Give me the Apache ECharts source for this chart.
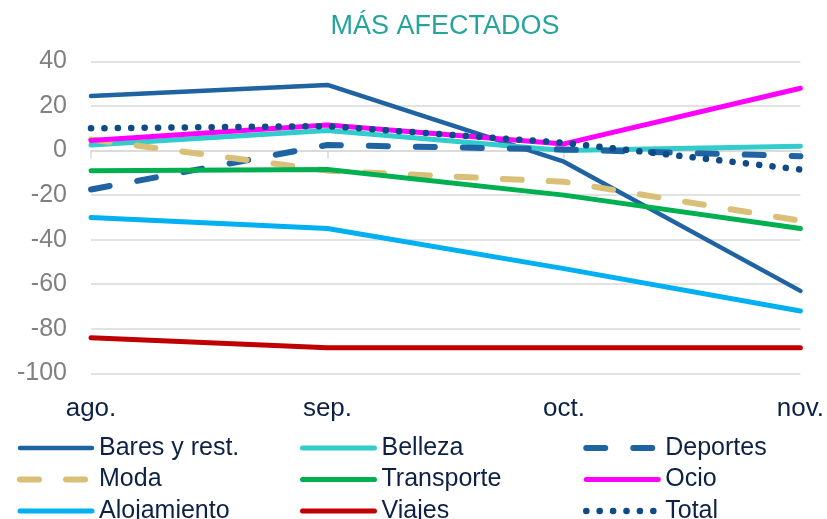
<!DOCTYPE html>
<html>
<head>
<meta charset="utf-8">
<script src="https://cdn.jsdelivr.net/npm/echarts@6/dist/echarts.min.js"></script>
<style>
  html, body { margin: 0; padding: 0; background: #fff; }
  #chart { width: 827px; height: 519px; }
</style>
</head>
<body>
<div id="chart"></div>
<script>
// --- data ---
const months = ['ago.', 'sep.', 'oct.', 'nov.'];
const yTicks = [-100, -80, -60, -40, -20, 0, 20, 40];

const bares = [24.5, 29.5, -5, -63];
const belleza = [2.5, 9, 0, 2];
const deportes = [-17.5, 2.5, 0.5, -2.5];
const moda = [5, -9, -14, -31.5];
const transporte = [-9, -8.5, -20, -35];
const ocio = [4.5, 11.5, 3, 28];
const alojamiento = [-30, -35, -53, -72];
const viajes = [-84, -88.5, -88.5, -88.5];
const total = [10, 11, 3.5, -8.5];

// colours
const COLORS = {
  bares: '#1F63A3',
  belleza: '#33CCCC',
  deportes: '#1F63A3',
  moda: '#D9BF77',
  transporte: '#00B050',
  ocio: '#FF00FF',
  alojamiento: '#00B0F0',
  viajes: '#C00000',
  total: '#0E4A86',
  title: '#26A49C',
  grid: '#D9D9D9',
  yText: '#808080',
  text: '#0D2145'
};

const FONT = 'Liberation Sans, Arial, sans-serif';

const line = (name, data, color, extra = {}) => ({
  name,
  type: 'line',
  data,
  symbol: 'none',
  xAxisIndex: 0,
  lineStyle: Object.assign({ width: 5, color, cap: 'round' }, extra),
  itemStyle: { color }
});

// one vertical legend per column
const legendCol = (left, names) => ({
  orient: 'vertical',
  left,
  top: 435,
  height: 120,
  padding: 0,
  itemWidth: 72,
  itemHeight: 14,
  itemGap: 5.5,
  data: names,
  itemStyle: { opacity: 0 },
  lineStyle: { width: 'inherit', type: 'inherit', cap: 'inherit' },
  textStyle: { fontFamily: FONT, fontSize: 25, color: COLORS.text, lineHeight: 26, padding: [0, 0, 0, 2] }
});

const chart = echarts.init(document.getElementById('chart'));

chart.setOption({
  animation: false,
  backgroundColor: '#fff',
  title: {
    text: 'MÁS AFECTADOS',
    left: 440,
    textAlign: 'center',
    top: 8,
    textStyle: { fontFamily: FONT, fontSize: 27, fontWeight: 'normal', color: COLORS.title }
  },
  grid: { left: 91, right: 21, top: 61.5, height: 311.8, containLabel: false },
  legend: [
    legendCol(17, ['Bares y rest.', 'Moda', 'Alojamiento']),
    legendCol(300, ['Belleza', 'Transporte', 'Viajes']),
    legendCol(583, ['Deportes', 'Ocio', 'Total'])
  ],
  xAxis: [
    {
      // axis line at zero with the ticks
      type: 'category',
      data: months,
      boundaryGap: false,
      axisLine: { onZero: true, lineStyle: { color: COLORS.grid, width: 1.5 } },
      axisTick: { show: true, length: 8, lineStyle: { color: COLORS.grid, width: 1.5 } },
      axisLabel: { show: false }
    },
    {
      // labels sit at the bottom
      type: 'category',
      data: months,
      boundaryGap: false,
      position: 'bottom',
      axisLine: { show: false, onZero: false },
      axisTick: { show: false },
      axisLabel: { margin: 23, fontFamily: FONT, fontSize: 26, color: COLORS.text }
    }
  ],
  yAxis: {
    type: 'value',
    min: yTicks[0],
    max: yTicks[yTicks.length - 1],
    interval: 20,
    axisLine: { show: false },
    axisTick: { show: false },
    splitLine: { lineStyle: { color: COLORS.grid, width: 1.5 } },
    axisLabel: { margin: 24, fontFamily: FONT, fontSize: 25, color: COLORS.yText }
  },
  series: [
    line('Bares y rest.', bares, COLORS.bares, { width: 4.5 }),
    line('Belleza', belleza, COLORS.belleza),
    line('Deportes', deportes, COLORS.deportes, { width: 6, type: [19, 28] }),
    line('Moda', moda, COLORS.moda, { width: 6, type: [19, 27] }),
    line('Transporte', transporte, COLORS.transporte),
    line('Ocio', ocio, COLORS.ocio),
    line('Alojamiento', alojamiento, COLORS.alojamiento),
    line('Viajes', viajes, COLORS.viajes),
    line('Total', total, COLORS.total, { width: 6.5, type: [0.1, 13.3] })
  ]
});
</script>
</body>
</html>
